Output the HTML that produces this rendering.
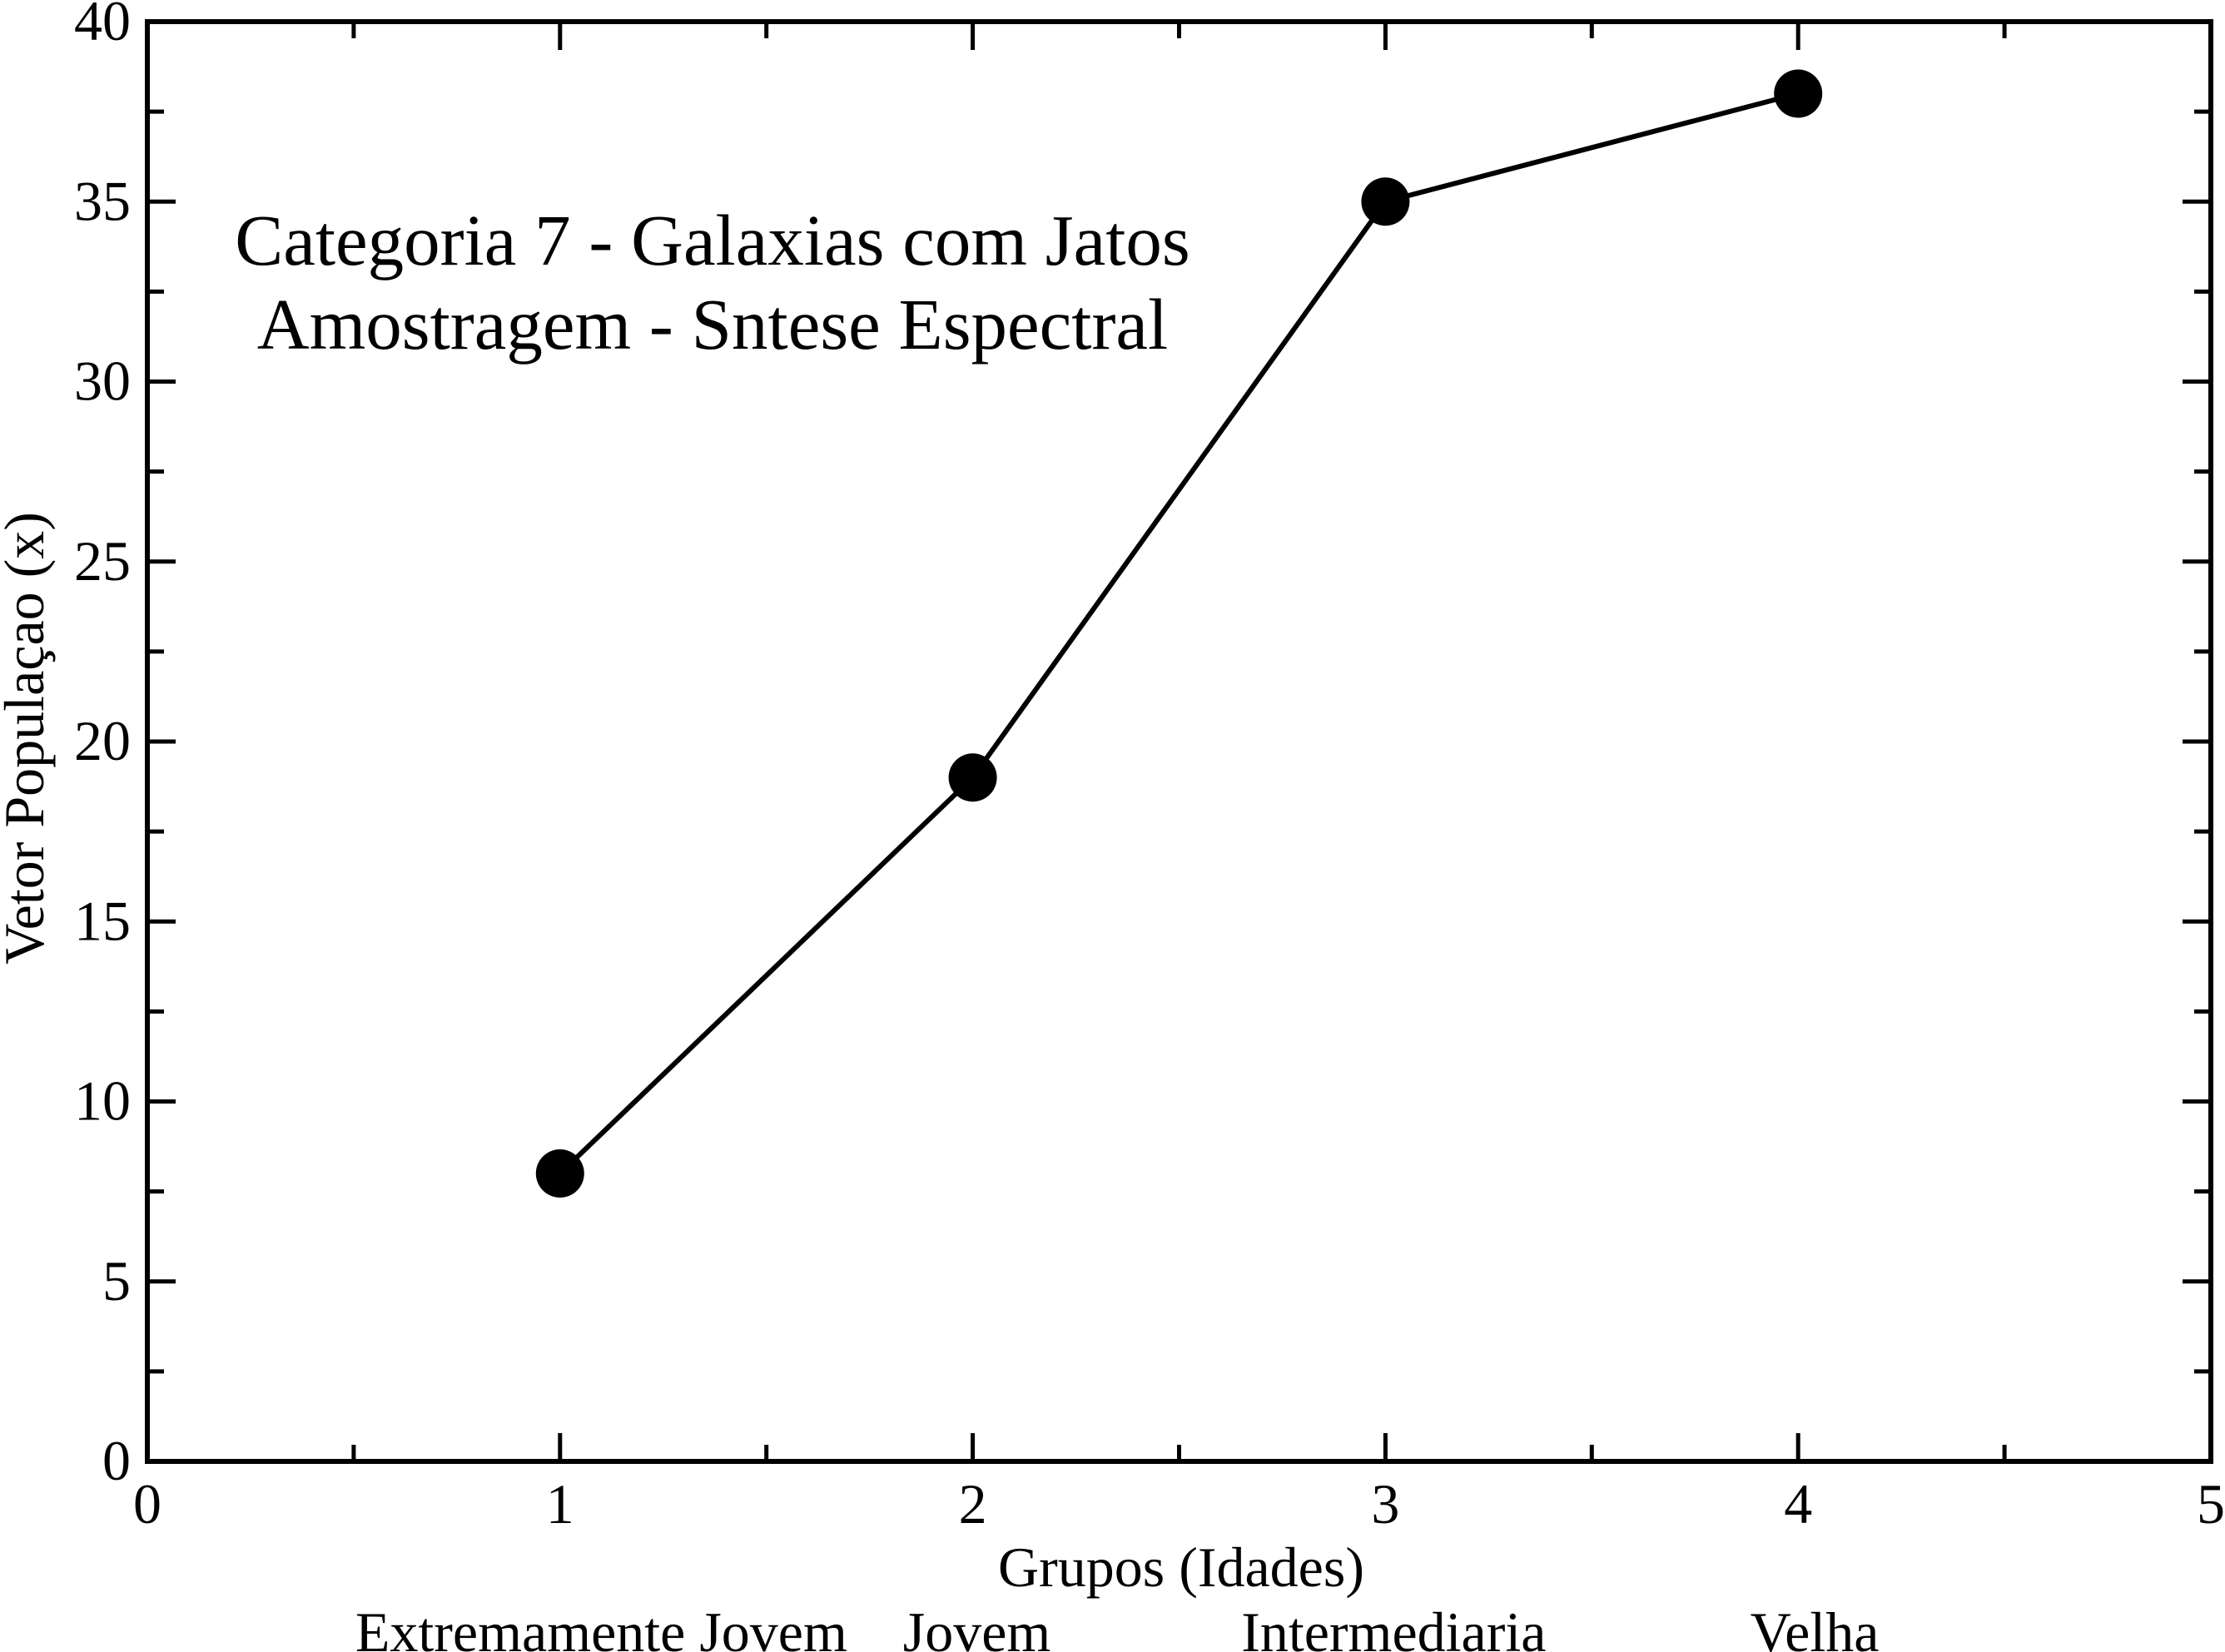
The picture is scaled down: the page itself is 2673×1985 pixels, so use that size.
<!DOCTYPE html>
<html><head><meta charset="utf-8"><style>
html,body{margin:0;padding:0;background:#fff;}
svg{display:block;}
text{font-family:"Liberation Serif",serif;fill:#000;}
</style></head><body>
<svg id="chart" width="2673" height="1985" viewBox="0 0 2673 1985">
<rect width="2673" height="1985" fill="#fff"/>
<g id="axes"></g>
<g id="series"></g>
<text x="856" y="318" font-size="87" text-anchor="middle">Categoria 7 - Galaxias com Jatos</text>
<text x="856" y="419" font-size="87" text-anchor="middle">Amostragem - Sntese Espectral</text>
<text x="1419" y="1906" font-size="68" text-anchor="middle">Grupos (Idades)</text>
<text transform="translate(52,887) rotate(-90)" font-size="68" text-anchor="middle">Vetor Populaçao (x)</text>
<g id="groups"></g>
</svg>
<script>
const xValues=[1,2,3,4];
const yValues=[8,19,35,38];
const xTicks=[0,1,2,3,4,5];
const yTicks=[0,5,10,15,20,25,30,35,40];
const groupNames=["Extremamente Jovem","Jovem","Intermediaria","Velha"];
const groupPos=[1.1,2.01,3.02,4.04];

const L=177,R=2656,T=26,B=1756;
const X=v=>L+(v-0)/(5-0)*(R-L);
const Y=v=>B-(v-0)/(40-0)*(B-T);
const NS="http://www.w3.org/2000/svg";
function mk(tag,attrs,parent){const e=document.createElementNS(NS,tag);for(const k in attrs)e.setAttribute(k,attrs[k]);parent.appendChild(e);return e;}
const axes=document.getElementById('axes');
const frame=mk('rect',{x:L,y:T,width:R-L,height:B-T,fill:'none',stroke:'#000','stroke-width':6},axes);


for(let v=0;v<=5.001;v+=0.5){
  const major=Math.abs(v-Math.round(v))<1e-6;const len=major?34:20;const x=X(v);
  const t1=mk('line',{x1:x,y1:B,x2:x,y2:B-len,stroke:'#000','stroke-width':5},axes);
  
  
  const t2=mk('line',{x1:x,y1:T,x2:x,y2:T+len,stroke:'#000','stroke-width':5},axes);
  
  
}
for(let v=0;v<=40.001;v+=2.5){
  const major=Math.abs(v/5-Math.round(v/5))<1e-6;const len=major?34:20;const y=Y(v);
  const t1=mk('line',{x1:L,y1:y,x2:L+len,y2:y,stroke:'#000','stroke-width':5},axes);
  
  
  const t2=mk('line',{x1:R,y1:y,x2:R-len,y2:y,stroke:'#000','stroke-width':5},axes);
  
  
}
xTicks.forEach(v=>{
  const t=mk('text',{x:X(v),y:B+74,'font-size':68,'text-anchor':'middle'},axes);t.textContent=v;
  
  
});
yTicks.forEach(v=>{
  const t=mk('text',{x:L-20,y:Y(v)+22,'font-size':68,'text-anchor':'end'},axes);t.textContent=v;
  
  
});
const g=document.getElementById('groups');
groupNames.forEach((n,i)=>{
  const t=mk('text',{x:X(groupPos[i]),y:1984,'font-size':68,'text-anchor':'middle'},g);t.textContent=n;
  
  
});
const s=document.getElementById('series');
const pl=mk('polyline',{points:xValues.map((x,i)=>X(x)+','+Y(yValues[i])).join(' '),fill:'none',stroke:'#000','stroke-width':6},s);


xValues.forEach((x,i)=>{
  const c=mk('circle',{cx:X(x),cy:Y(yValues[i]),r:29,fill:'#000'},s);
  
  
});
</script>
</body></html>
